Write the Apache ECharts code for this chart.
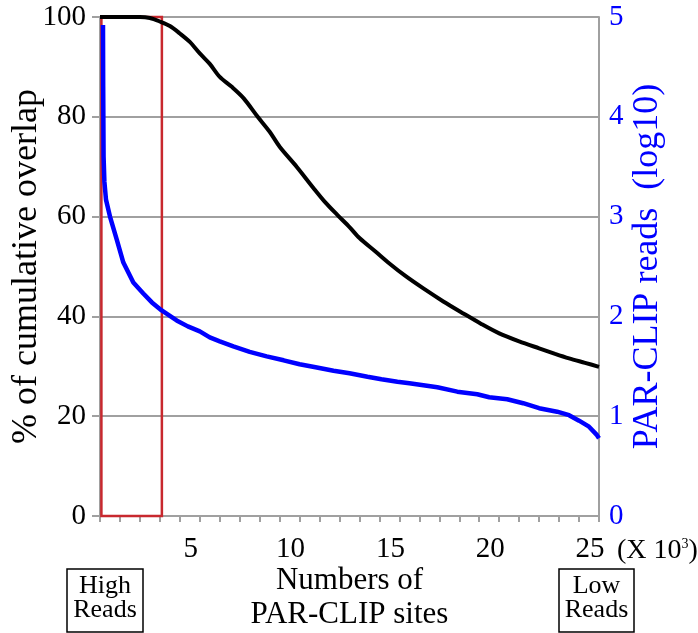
<!DOCTYPE html>
<html>
<head>
<meta charset="utf-8">
<title>PAR-CLIP cumulative overlap</title>
<script src="https://cdn.jsdelivr.net/npm/echarts@6/dist/echarts.min.js"></script>
<style>
  html, body { margin: 0; padding: 0; background: #fff; }
  #chart { width: 698px; height: 633px; }
</style>
</head>
<body>
<div id="chart"></div>
<script>
// x values are numbers of PAR-CLIP sites (x 10^3)
const overlapSites = [0, 1, 2, 2.5, 3, 3.5, 4, 4.5, 5, 5.5, 6, 6.6, 7.2, 7.9, 8.5, 9, 9.85, 10.7, 11.3, 11.9, 12.5, 13, 13.8, 14.5, 15.3, 16.2, 17.2, 18.2, 19.1, 20, 21, 22, 22.8, 23.5, 24.3, 25]
const overlapPct = [100, 100, 100, 99.8, 99.1, 98.2, 96.7, 95, 92.7, 90.6, 88, 86, 83.7, 80, 77, 74, 70, 65.7, 62.8, 60.3, 57.9, 55.7, 53, 50.6, 48.1, 45.6, 43, 40.6, 38.5, 36.6, 35, 33.6, 32.5, 31.6, 30.7, 29.9]

const readSites = [0.15, 0.16, 0.18, 0.22, 0.3, 0.5, 0.84, 1.17, 1.67, 2.17, 2.6, 3.09, 3.84, 4.4, 5.0, 5.5, 6.0, 6.68, 7.5, 8.35, 9.2, 10.0, 10.8, 11.7, 12.5, 13.4, 14.1, 14.9, 15.5, 16.2, 16.9, 17.9, 18.9, 19.5, 20.4, 21.2, 22.0, 22.9, 23.5, 24.0, 24.5, 24.9, 25]
const logReads = [4.92, 4.3, 3.6, 3.35, 3.17, 3.0, 2.77, 2.54, 2.34, 2.23, 2.14, 2.06, 1.96, 1.9, 1.85, 1.79, 1.75, 1.70, 1.645, 1.6, 1.56, 1.52, 1.49, 1.456, 1.43, 1.396, 1.37, 1.346, 1.33, 1.31, 1.29, 1.246, 1.22, 1.19, 1.17, 1.13, 1.08, 1.045, 1.01, 0.955, 0.895, 0.81, 0.78]

// high-read window marked by the red box (x range, % range)
const highReadsBox = [0.07, 3.1]
const highReadsPct = [0, 100]

const xTickLabels = [5, 10, 15, 20, 25]

const SERIF = "'Liberation Serif', 'Times New Roman', serif"
const GRID_GRAY = '#a0a0a0'
const BLUE = '#0000ff'

const chart = echarts.init(document.getElementById('chart'), null, { renderer: 'canvas' })

chart.setOption({
  animation: false,
  textStyle: { fontFamily: SERIF },
  grid: { left: 100, right: 99, top: 17, bottom: 117, containLabel: false, outerBoundsMode: 'none' },
  xAxis: {
    type: 'value',
    min: 0,
    max: 25,
    interval: 1,
    name: 'Numbers of\nPAR-CLIP sites',
    nameLocation: 'middle',
    nameGap: 48,
    nameMoveOverlap: false,
    nameTextStyle: { color: '#000', fontSize: 31, lineHeight: 34, fontFamily: SERIF },
    axisLine: { lineStyle: { color: GRID_GRAY, width: 2 } },
    axisTick: { show: true, inside: false, length: 6, lineStyle: { color: GRID_GRAY, width: 2 } },
    axisLabel: {
      color: '#000',
      fontSize: 29,
      fontFamily: SERIF,
      margin: 19,
      padding: [0, 18, 0, 0],
      formatter: v => (xTickLabels.includes(v) ? String(v) : '')
    },
    splitLine: { show: false }
  },
  yAxis: [
    {
      type: 'value',
      min: 0,
      max: 100,
      interval: 20,
      position: 'left',
      name: '% of cumulative overlap',
      nameLocation: 'middle',
      nameRotate: 90,
      nameGap: 55,
      nameMoveOverlap: false,
      nameTextStyle: { color: '#000', fontSize: 36, fontFamily: SERIF },
      axisLine: { show: true, lineStyle: { color: GRID_GRAY, width: 2 } },
      axisTick: { show: true, length: 8, lineStyle: { color: GRID_GRAY, width: 2 } },
      axisLabel: { color: '#000', fontSize: 29, fontFamily: SERIF, margin: 14, padding: [5, 0, 0, 0] },
      splitLine: { show: true, lineStyle: { color: GRID_GRAY, width: 2 } }
    },
    {
      type: 'value',
      min: 0,
      max: 5,
      interval: 1,
      position: 'right',
      name: 'PAR-CLIP reads  (log10)',
      nameLocation: 'middle',
      nameRotate: 90,
      nameGap: 31,
      nameMoveOverlap: false,
      nameTextStyle: { color: BLUE, fontSize: 36, fontFamily: SERIF },
      axisLine: { show: true, lineStyle: { color: GRID_GRAY, width: 2 } },
      axisTick: { show: false },
      axisLabel: { color: BLUE, fontSize: 29, fontFamily: SERIF, margin: 10 },
      splitLine: { show: false }
    }
  ],
  series: [
    {
      name: 'Overlap',
      type: 'line',
      yAxisIndex: 0,
      data: overlapSites.map((x, i) => [x, overlapPct[i]]),
      symbol: 'none',
      smooth: 0.3,
      lineStyle: { color: '#000', width: 4 },
      z: 3,
      markArea: {
        silent: true,
        itemStyle: { color: 'rgba(0,0,0,0)', borderColor: '#c8282e', borderWidth: 2.5 },
        data: [[
          { xAxis: highReadsBox[0], yAxis: highReadsPct[0] },
          { xAxis: highReadsBox[1], yAxis: highReadsPct[1] }
        ]]
      }
    },
    {
      name: 'Reads',
      type: 'line',
      yAxisIndex: 1,
      data: readSites.map((x, i) => [x, logReads[i]]),
      symbol: 'none',
      lineStyle: { color: BLUE, width: 4.5 },
      z: 2
    }
  ],
  graphic: [
    {
      type: 'text',
      x: 617,
      y: 551,
      style: {
        text: '(X 10{sup|3})',
        fontSize: 28,
        fontFamily: SERIF,
        fill: '#000',
        verticalAlign: 'middle',
        rich: { sup: { fontSize: 14, fontFamily: SERIF, verticalAlign: 'top', lineHeight: 28 } }
      }
    },
    { type: 'rect', shape: { x: 67, y: 569, width: 76, height: 63 }, style: { fill: '#fff', stroke: '#000', lineWidth: 1.5 } },
    {
      type: 'text', x: 105, y: 598,
      style: { text: 'High\nReads', fontSize: 26, lineHeight: 24, fontFamily: SERIF, fill: '#000', align: 'center', verticalAlign: 'middle' }
    },
    { type: 'rect', shape: { x: 559, y: 569, width: 75, height: 63 }, style: { fill: '#fff', stroke: '#000', lineWidth: 1.5 } },
    {
      type: 'text', x: 596.5, y: 598,
      style: { text: 'Low\nReads', fontSize: 26, lineHeight: 24, fontFamily: SERIF, fill: '#000', align: 'center', verticalAlign: 'middle' }
    }
  ]
})
</script>
</body>
</html>
